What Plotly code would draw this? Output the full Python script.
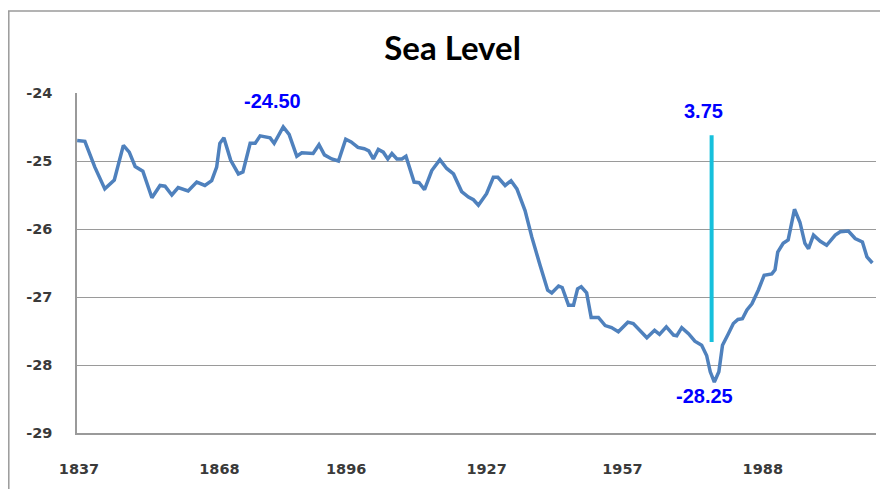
import plotly.graph_objects as go

years = [1836.6, 1838.3, 1840.5, 1842.7, 1844.8, 1846.8, 1848.1, 1849.4, 1851.1, 1853.1,
         1854.9, 1856.0, 1857.5, 1858.9, 1861.1, 1863.0, 1864.8, 1866.3, 1867.4, 1868.1,
         1869.0, 1870.5, 1872.2, 1873.2, 1874.8, 1875.9, 1877.0, 1878.1, 1879.2, 1880.1,
         1882.1, 1883.4, 1885.1, 1886.2, 1887.6, 1888.7, 1890.0, 1891.2, 1892.8, 1894.3,
         1895.9, 1897.1, 1898.6, 1900.0, 1901.0, 1902.0, 1903.1, 1904.2, 1905.2, 1906.1,
         1907.2, 1908.3, 1909.2, 1911.0, 1912.1, 1913.3, 1914.9, 1916.7, 1918.2, 1919.7,
         1921.5, 1923.0, 1924.1, 1925.2, 1927.0, 1928.5, 1929.5, 1931.1, 1932.4, 1933.7,
         1935.5, 1937.0, 1938.8, 1940.5, 1941.4, 1942.9, 1943.7, 1945.1, 1946.2, 1947.1,
         1947.9, 1949.1, 1950.1, 1951.7, 1953.2, 1954.6, 1956.1, 1958.2, 1959.4, 1960.9,
         1962.4, 1964.1, 1965.2, 1966.7, 1968.3, 1969.0, 1970.1, 1971.6, 1973.0, 1974.5,
         1975.6, 1976.4, 1977.3, 1978.3, 1979.1, 1980.4, 1981.5, 1982.5, 1983.5, 1984.5,
         1985.6, 1987.0, 1988.3, 1990.0, 1990.7, 1991.3, 1992.5, 1993.6, 1995.0, 1996.2,
         1997.3, 1998.1, 1999.2, 2000.7, 2002.1, 2004.0, 2005.1, 2006.9, 2008.4, 2010.0,
         2011.0, 2012.2]

sea_level = [-24.70, -24.71, -25.09, -25.41, -25.28, -24.77, -24.87, -25.08, -25.15, -25.54,
             -25.36, -25.37, -25.50, -25.39, -25.44, -25.31, -25.36, -25.29, -25.09, -24.74,
             -24.66, -24.99, -25.19, -25.16, -24.74, -24.74, -24.63, -24.64, -24.66, -24.74,
             -24.50, -24.61, -24.93, -24.88, -24.88, -24.89, -24.76, -24.91, -24.97, -25.00,
             -24.68, -24.72, -24.80, -24.82, -24.85, -24.97, -24.83, -24.87, -24.97, -24.89,
             -24.97, -24.97, -24.93, -25.31, -25.32, -25.42, -25.14, -24.98, -25.11, -25.19,
             -25.45, -25.53, -25.57, -25.65, -25.48, -25.24, -25.24, -25.36, -25.29, -25.41,
             -25.73, -26.12, -26.53, -26.90, -26.94, -26.84, -26.86, -27.12, -27.12, -26.88,
             -26.85, -26.94, -27.30, -27.30, -27.42, -27.45, -27.51, -27.37, -27.39, -27.49,
             -27.60, -27.49, -27.55, -27.44, -27.56, -27.57, -27.45, -27.54, -27.65, -27.71,
             -27.86, -28.10, -28.25, -28.10, -27.71, -27.54, -27.39, -27.33, -27.32, -27.19,
             -27.10, -26.90, -26.68, -26.66, -26.60, -26.34, -26.21, -26.16, -25.71, -25.90,
             -26.21, -26.29, -26.09, -26.18, -26.24, -26.09, -26.04, -26.03, -26.14, -26.19,
             -26.41, -26.50]

tick_years = [1837, 1868, 1896, 1927, 1957, 1988]
tick_labels = ["1837", "1868", "1896", "1927", "1957", "1988"]
y_ticks = [-29, -28, -27, -26, -25, -24]
y_tick_labels = ["-29", "-28", "-27", "-26", "-25", "-24"]

range_bar_x = [1976.7, 1976.7]
range_bar_y = [-24.62, -27.66]

max_pos = (1879.8, -24.12)
range_pos = (1975.0, -24.27)
min_pos = (1975.2, -28.45)

max_val = max(sea_level)
min_val = min(sea_level)

fig = go.Figure()
fig.add_trace(go.Scatter(x=years, y=sea_level, mode="lines",
                         line=dict(color="#4F81BD", width=3.5), showlegend=False,
                         hoverinfo="x+y"))
fig.add_trace(go.Scatter(x=range_bar_x, y=range_bar_y, mode="lines",
                         line=dict(color="#17C0DC", width=4), showlegend=False))

ann_font = dict(family="Liberation Sans, Arial, sans-serif", size=20, color="#0000FF", weight="bold")
for (ax, ay), txt in [(max_pos, f"{max_val:.2f}"),
                      (range_pos, f"{max_val - min_val:.2f}"),
                      (min_pos, f"{min_val:.2f}")]:
    fig.add_annotation(x=ax, y=ay, text=txt, showarrow=False, font=ann_font,
                       xanchor="center", yanchor="middle")

tick_font = dict(family="DejaVu Sans, Verdana, sans-serif", size=14.5, color="#3a3a3a", weight="bold")

W, H = 880, 481
L, T, B, R = 69, 85, 56, 12
PW, PH = W - L - R, H - T - B

fig.update_layout(
    width=W, height=H,
    margin=dict(l=L, r=R, t=T, b=B),
    paper_bgcolor="white", plot_bgcolor="white",
    title=dict(text="Sea Level", x=0.47, xref="paper", xanchor="center",
               y=1 - 40 / H, yref="container", yanchor="middle",
               font=dict(family="Lato, Calibri, sans-serif", size=33, color="#000000", weight="bold")),
    xaxis=dict(range=[1836.56, 2013.0], tickmode="array", tickvals=tick_years, ticktext=tick_labels,
               showgrid=False, zeroline=False, showline=True, linecolor="#9a9a9a", linewidth=1.5,
               ticks="outside", ticklen=22, tickcolor="rgba(0,0,0,0)", tickfont=tick_font),
    yaxis=dict(range=[-29, -24], tickmode="array", tickvals=y_ticks, ticktext=y_tick_labels,
               showgrid=True, gridcolor="#9a9a9a", gridwidth=1.3, zeroline=False,
               showline=True, linecolor="#9a9a9a", linewidth=1.5,
               ticks="outside", ticklen=20, tickcolor="rgba(0,0,0,0)", tickfont=tick_font),
    shapes=[
        dict(type="line", xref="paper", yref="paper", x0=(0 - L) / PW, x1=(W - L) / PW + 0.01,
             y0=1 + (T - 3) / PH, y1=1 + (T - 3) / PH, line=dict(color="#9a9a9a", width=1.5)),
        dict(type="line", xref="paper", yref="paper", x0=(0.8 - L) / PW, x1=(0.8 - L) / PW,
             y0=1 + (T - 3) / PH, y1=-B / PH - 0.01, line=dict(color="#9a9a9a", width=1.5)),
    ],
)

fig.write_html("out.html")
